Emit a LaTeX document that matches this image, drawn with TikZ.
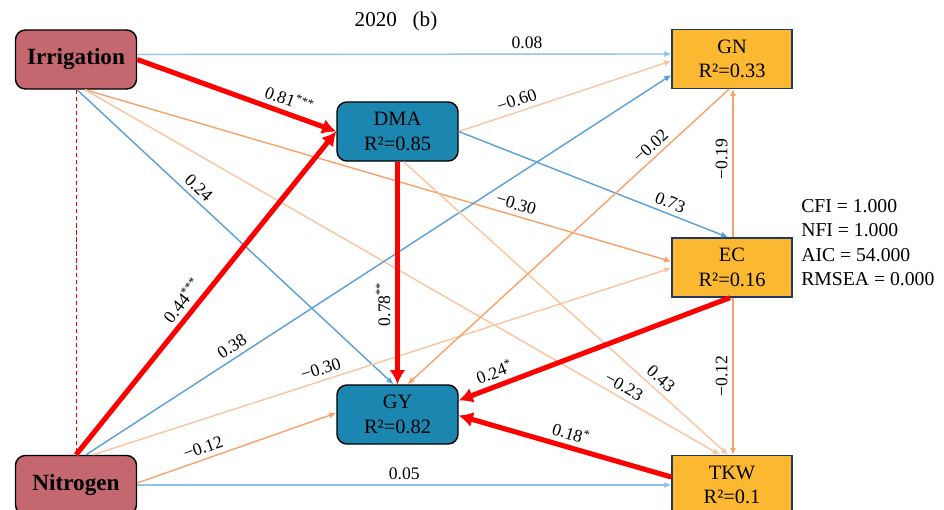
\documentclass[tikz,border=0pt]{standalone}
\usepackage{fontspec}
\setmainfont{Liberation Serif}
\usepackage{tikz}
\usetikzlibrary{positioning,calc,arrows.meta}

\definecolor{factorred}{RGB}{196,103,110}
\definecolor{midblue}{RGB}{27,134,176}
\definecolor{resgold}{RGB}{251,184,48}
\definecolor{resnavy}{RGB}{32,56,100}
\definecolor{lblue}{RGB}{141,196,235}
\definecolor{mblue}{RGB}{88,160,218}
\definecolor{lorange}{RGB}{251,196,160}
\definecolor{morange}{RGB}{248,162,105}

\tikzset{
  factor/.style={draw=black, line width=1pt, fill=factorred, rounded corners=7pt,
    minimum width=3.025cm, minimum height=1.475cm, font=\fontsize{16.5}{19}\selectfont\bfseries},
  mediator/.style={draw=black, line width=1pt, fill=midblue, rounded corners=7pt,
    minimum width=3.025cm, minimum height=1.475cm, align=center, font=\fontsize{14.5}{17.5}\selectfont},
  trait/.style={draw=resnavy, line width=1pt, fill=resgold,
    minimum width=3cm, minimum height=1.475cm, align=center, font=\fontsize{14.5}{17.5}\selectfont},
  thinpath/.style={line width=1pt, -{Latex[length=5pt,width=4.5pt]}},
  sigpath/.style={draw=red, line width=3.6pt, -{Latex[length=10pt,width=11pt]}},
  coef/.style={font=\fontsize{12.5}{14}\selectfont, sloped, above},
  vcoef/.style={font=\fontsize{12.5}{14}\selectfont, rotate=90, above},
}

\begin{document}
\begin{tikzpicture}[x=0.025cm,y=-0.025cm]
  \useasboundingbox (0,0) rectangle (944,510);
  \clip (0,0) rectangle (944,510);

  % boxes
  \node[factor] (irr) at (76,59.5) {Irrigation};
  \node[factor] (nit) at (76,485) {Nitrogen};
  \node[mediator] (dma) at (397.5,131.5) {DMA\\R²=0.85};
  \node[mediator] (gy) at (397.5,414.5) {GY\\R²=0.82};
  \node[trait] (gn) at (732,59) {GN\\R²=0.33};
  \node[trait] (ec) at (732,267.5) {EC\\R²=0.16};
  \node[trait] (tkw) at (732,485) {TKW\\R²=0.1};

  \node[font=\fontsize{15}{17}\selectfont] (title) at (396,21) {2020\ \ \ (b)};
  \node[anchor=north west, inner sep=0pt, align=left, font=\fontsize{14}{17.4}\selectfont]
    (fitidx) at (801,199) {CFI = 1.000\\NFI = 1.000\\AIC = 54.000\\RMSEA = 0.000};

  % correlation of the two factors
  \draw[red, line width=0.7pt, dash pattern=on 3pt off 2pt] (irr.south) -- (nit.north);

  % thin paths
  \draw[thinpath, lblue] ($(irr.east)+(0,-5)$) -- node[coef, pos=0.73, black] {0.08} ($(gn.west)+(0,-5)$);
  \draw[thinpath, mblue] ($(irr.south)+(1,0)$) -- node[coef, pos=0.36, black] {0.24} ($(gy.north)+(-4,0)$);
  \draw[thinpath, morange] ($(irr.south)+(9,0)$) -- node[coef, pos=0.73, black] {−0.30} ($(ec.west)+(0,-6)$);
  \draw[thinpath, lorange] ($(irr.south)+(9,0)$) -- node[coef, pos=0.84, black] {−0.23} ($(tkw.north)+(-12,0)$);
  \draw[thinpath, mblue] ($(nit.north)+(10,0)$) -- node[coef, pos=0.26, black] {0.38} ($(gn.west)+(0,16)$);
  \draw[thinpath, lorange] ($(nit.north)+(17,0)$) -- node[coef, pos=0.40, black] {−0.30} ($(ec.west)+(0,0.5)$);
  \draw[thinpath, morange] ($(nit.east)+(0,-2)$) -- node[coef, pos=0.35, black] {−0.12} ($(gy.west)+(0,-1.5)$);
  \draw[thinpath, lblue] (nit.east) -- node[coef, pos=0.5, black] {0.05} (tkw.west);
  \draw[thinpath, lorange] (dma.east) -- node[coef, pos=0.29, black] {−0.60} ($(gn.west)+(0,2)$);
  \draw[thinpath, mblue] (dma.east) -- node[coef, pos=0.77, black] {0.73} ($(ec.north)+(-4,0)$);
  \draw[thinpath, lorange] ($(dma.south)+(6,0)$) -- node[coef, pos=0.77, black] {0.43} ($(tkw.north)+(-4,0)$);
  \draw[thinpath, morange] ($(gn.south)+(-3,0)$) -- node[coef, pos=0.22, black] {−0.02} ($(gy.north)+(10,0)$);
  \draw[thinpath, morange] ($(ec.north)+(1,0)$) -- node[vcoef, pos=0.53, black] {−0.19} ($(gn.south)+(1,0)$);
  \draw[thinpath, morange] ($(ec.south)+(1,0)$) -- node[vcoef, pos=0.5, black] {−0.12} ($(tkw.north)+(1,0)$);

  % significant paths
  \draw[sigpath] (irr.east) -- node[coef, pos=0.74] {0.81\textsuperscript{***}} (dma.west);
  \draw[sigpath] (nit.north) -- node[coef, pos=0.45] {0.44\textsuperscript{***}} (dma.west);
  \draw[sigpath] (dma.south) -- node[vcoef, pos=0.64] {0.78\textsuperscript{**}} (gy.north);
  \draw[sigpath] ($(ec.south)+(-2,0)$) -- node[coef, pos=0.85] {0.24\textsuperscript{*}} ($(gy.east)+(0,-14)$);
  \draw[sigpath] ($(tkw.west)+(0,-8)$) -- node[coef, pos=0.49] {0.18\textsuperscript{*}} ($(gy.east)+(0,1)$);
\end{tikzpicture}
\end{document}
